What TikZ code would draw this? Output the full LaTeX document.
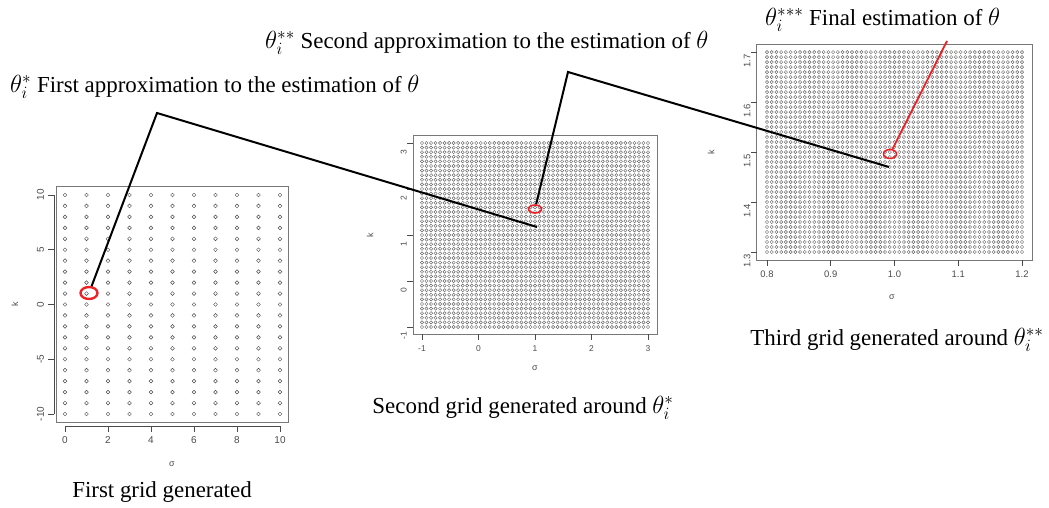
\documentclass[tikz,border=0pt]{standalone}
\usepackage{fontspec}
\setmainfont{Liberation Serif}
\setsansfont{Liberation Sans}
\definecolor{red1}{RGB}{235, 35, 40}
\definecolor{gray1}{RGB}{120, 120, 120}
\definecolor{gray2}{RGB}{75, 75, 75}
\usetikzlibrary{shapes, positioning}

\begin{document}
\begin{tikzpicture}[x=1bp, y=-1bp,
  pt/.style={draw=gray2, line width=0.45bp},
  frame/.style={draw=gray1, line width=0.9bp},
  axis/.style={draw=gray2, line width=0.7bp},
  tick/.style={font=\sffamily\fontsize{9}{9}\selectfont, text=gray2, inner sep=0pt},
  est/.style={draw=red1, ellipse, inner sep=0pt},
  lead/.style={draw=black, line width=2bp},
  captxt/.style={font=\fontsize{23}{26}\selectfont, inner sep=0pt}]
  \useasboundingbox (0,0) rectangle (1049,508);

  % first grid, sigma 0..10, k -10..10
  \begin{scope}[shift={(65,304.5)}, x=21.5bp, y=10.95bp]
    \draw[frame] (-0.4,-10.8) rectangle (10.4,10.8);
    \foreach \s in {0,...,10}
      \draw[pt] \foreach \k in {-10,...,10} {(\s,\k) circle[radius=1.9bp]};
    \draw[axis] (0,-11.1) -- (10,-11.1);
    \foreach \s in {0,2,...,10}
      \draw[axis] (\s,-11.1) -- ++(0,-6bp) node[below=4bp, tick, font=\sffamily\fontsize{10}{10}\selectfont] {\s};
    \draw[axis] (-0.5,-10) -- (-0.5,10);
    \foreach \k in {-10,-5,...,10}
      \draw[axis] (-0.5,\k) -- ++(-6bp,0) node[left=4bp, tick, rotate=90, anchor=south, font=\sffamily\fontsize{10}{10}\selectfont] {\k};
  \end{scope}

  % second grid, sigma -1..3, k -1..3
  \begin{scope}[shift={(478.5,281)}, x=56.5bp, y=46bp]
    \draw[frame] (-1.16,-1.16) rectangle (3.16,3.16);
    \foreach \i in {0,...,50}
      \draw[pt, draw=gray2!85] \foreach \j in {0,...,40} {({-1+\i*0.08},{-1+\j*0.1}) circle[radius=1.6bp]};
    \foreach \s in {-1,...,3}
      \draw[axis] (\s,-1.16) -- ++(0,-6bp) node[below=5bp, tick, font=\sffamily\fontsize{8.5}{8.5}\selectfont] {\s};
    \foreach \k in {-1,...,3}
      \draw[axis] (-1.16,\k) -- ++(-6bp,0) node[tick, rotate=90, anchor=south, xshift=-9bp, font=\sffamily\fontsize{8.5}{8.5}\selectfont] {\k};
  \end{scope}

  % third grid, sigma 0.8..1.2, k 1.3..1.7
  \begin{scope}[shift={(894.5,152)}, x=637.5bp, y=500bp]
    \draw[frame] (-0.216,-0.216) rectangle (0.216,0.216);
    \foreach \i in {0,...,54}
      \draw[pt, draw=gray2!85] \foreach \j in {0,...,40} {({-0.2+\i*0.4/54},{-0.2+\j*0.01}) circle[radius=1.6bp]};
    \foreach \s/\t in {-0.2/0.8, -0.1/0.9, 0/1.0, 0.1/1.1, 0.2/1.2}
      \draw[axis] (\s,-0.216) -- ++(0,-6bp) node[below=5bp, tick, font=\sffamily\fontsize{9.5}{9.5}\selectfont] {\t};
    \foreach \k/\t in {-0.2/1.3, -0.1/1.4, 0/1.5, 0.1/1.6, 0.2/1.7}
      \draw[axis] (-0.216,\k) -- ++(-6bp,0) node[tick, rotate=90, anchor=south, xshift=-9bp, font=\sffamily\fontsize{9.5}{9.5}\selectfont] {\t};
  \end{scope}

  % axis titles
  \node[tick] (sig1) at (172,464) {σ};
  \node[tick, rotate=90] (k1) at (15,304) {k};
  \node[tick] (sig2) at (535,368) {σ};
  \node[tick, rotate=90] (k2) at (370,235) {k};
  \node[tick] (sig3) at (892,297) {σ};
  \node[tick, rotate=90] (k3) at (711,152) {k};

  % estimates
  \node[est, minimum width=17bp, minimum height=12bp, line width=2.4bp] (est1) at (89,293) {};
  \node[est, minimum width=13bp, minimum height=8bp, line width=1.6bp] (est2) at (535,209) {};
  \node[est, minimum width=13bp, minimum height=9bp, line width=1.5bp] (est3) at (890,154) {};

  \coordinate (b1) at (157,113);
  \coordinate (t1) at (537,227);
  \coordinate (b2) at (568,72);
  \coordinate (t2) at (889,167);
  \coordinate (t3) at (947,41);

  \draw[lead] (est1) -- (b1) -- (t1);
  \draw[lead] (est2) -- (b2) -- (t2);
  \draw[lead, draw=red1, line width=1.8bp] (est3) -- (t3);

  % texts
  \node[captxt, anchor=west] (lab1) at (10,87) {$\theta_i^*$ First approximation to the estimation of $\theta$};
  \node[captxt, anchor=west] (lab2) at (265,43) {$\theta_i^{**}$ Second approximation to the estimation of $\theta$};
  \node[captxt, anchor=west] (lab3) at (765,20) {$\theta_i^{***}$ Final estimation of $\theta$};
  \node[captxt] (cap1) at (162,492) {First grid generated};
  \node[captxt] (cap2) at (523,408) {Second grid generated around $\theta_i^*$};
  \node[captxt] (cap3) at (897,340) {Third grid generated around $\theta_i^{**}$};
\end{tikzpicture}
\end{document}
